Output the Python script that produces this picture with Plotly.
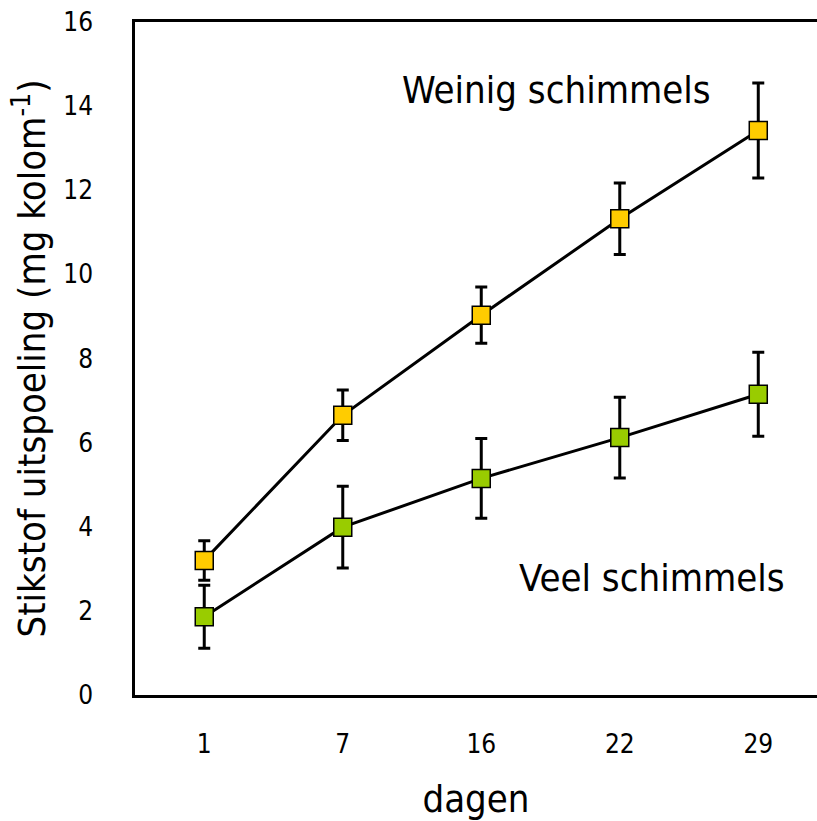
import plotly.graph_objects as go

days = ["1", "7", "16", "22", "29"]
weinig = [3.2, 6.65, 9.03, 11.32, 13.42]
weinig_err = [0.47, 0.6, 0.67, 0.85, 1.13]
veel = [1.86, 3.99, 5.15, 6.12, 7.15]
veel_err = [0.75, 0.97, 0.95, 0.96, 1.0]
yticks = [0, 2, 4, 6, 8, 10, 12, 14, 16]

FONT = "DejaVu Sans Condensed, DejaVu Sans, sans-serif"

fig = go.Figure()
for vals, errs, color in [(weinig, weinig_err, "#FFCC00"), (veel, veel_err, "#99CC00")]:
    fig.add_trace(go.Scatter(
        x=days, y=vals, mode="lines+markers",
        line=dict(color="black", width=3),
        marker=dict(symbol="square", size=18, color=color, line=dict(color="black", width=1.5)),
        error_y=dict(type="data", array=errs, visible=True, color="black", thickness=3, width=6),
        showlegend=False,
    ))

fig.add_annotation(x=2.54, y=14.38, text="Weinig schimmels", showarrow=False,
                   font=dict(size=38, color="black", family=FONT))
fig.add_annotation(x=3.23, y=2.78, text="Veel schimmels", showarrow=False,
                   font=dict(size=38, color="black", family=FONT))

fig.update_layout(
    width=817, height=821,
    margin=dict(l=135, r=0, t=22, b=126),
    plot_bgcolor="white", paper_bgcolor="white",
    font=dict(family=FONT, color="black"),
    xaxis=dict(type="category", range=[-0.5, 4.424], showline=True, linecolor="black",
               linewidth=2.5, mirror=True, showgrid=False, ticks="", zeroline=False,
               tickfont=dict(size=26), ticklabelstandoff=24,
               title=dict(text="dagen", font=dict(size=38), standoff=28)),
    yaxis=dict(range=[0, 16], tickvals=yticks, showline=True, linecolor="black",
               linewidth=2.5, showgrid=False, ticks="", zeroline=False,
               tickfont=dict(size=26), ticklabelstandoff=34,
               title=dict(text="Stikstof uitspoeling (mg kolom<sup>-1</sup>)",
                          font=dict(size=38), standoff=6)),
)

fig.write_html("out.html")
